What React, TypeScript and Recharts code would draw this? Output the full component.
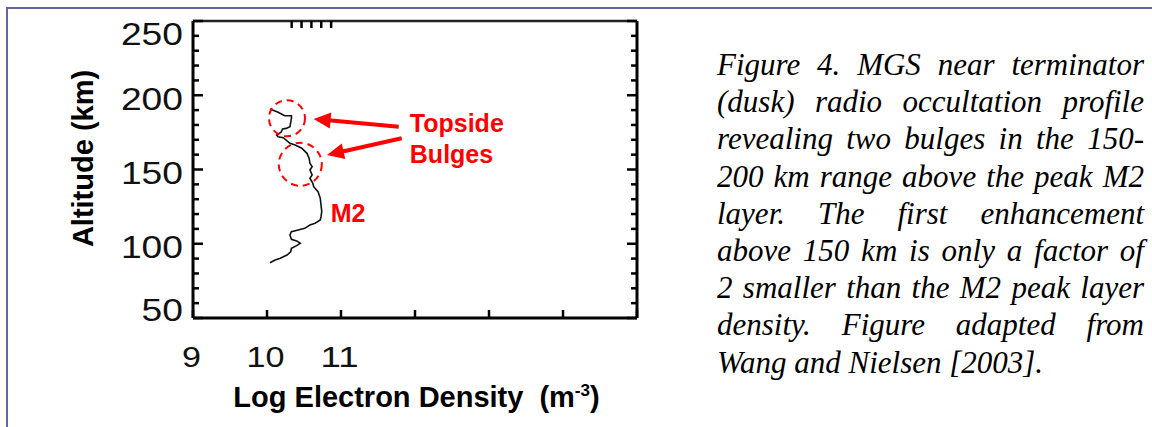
import React from 'react';
import { LineChart, Line, XAxis, YAxis, ReferenceDot, ReferenceLine } from 'recharts';

// ---- data ----
const logDensity = [
  10.04, 10.15, 10.24, 10.33, 10.33, 10.31, 10.26, 10.21, 10.19, 10.13, 10.15, 10.22,
  10.31, 10.38, 10.47, 10.54, 10.57, 10.58, 10.61, 10.58, 10.61, 10.58, 10.62, 10.63,
  10.69, 10.72, 10.73, 10.74, 10.73, 10.72, 10.65, 10.58, 10.51, 10.42, 10.33, 10.31,
  10.33, 10.40, 10.45, 10.40, 10.33, 10.32, 10.27, 10.18, 10.11, 10.04,
];
const altitudeKm = [
  190.7, 188.5, 186.2, 186.2, 184.5, 178.8, 177.7, 177.3, 175.1, 173.2, 172.1, 171.4,
  167.6, 166.5, 164.3, 160.9, 157.5, 154.2, 151.9, 149.7, 146.3, 144.1, 140.7, 138.4,
  135.1, 130.6, 126.1, 121.6, 118.2, 116.0, 113.8, 112.6, 110.4, 109.3, 108.1, 105.9,
  103.0, 101.9, 100.3, 98.7, 96.9, 94.6, 92.4, 90.2, 89.1, 87.2,
];
const xTicks = [9, 10, 11, 12, 13, 14, 15];
const xTickLabels = ['9', '10', '11'];
const yTicks = [50, 60, 70, 80, 90, 100, 110, 120, 130, 140, 150, 160, 170, 180, 190, 200, 210, 220, 230, 240, 250];
const yMajorTicks = [50, 100, 150, 200, 250];
const xDomain = [9, 15];
const yDomain = [50, 250];

// annotation anchors (data space)
const bulgeCircleX = [10.27, 10.45];
const bulgeCircleAlt = [184.5, 153.5];
const arrowTailX = [11.78, 11.82];
const arrowTailAlt = [178.8, 171.0];
const arrowTipX = [10.63, 10.81];
const arrowTipAlt = [184.0, 159.8];
const annotationTexts = ['Topside', 'Bulges', 'M2'];
const annotationX = [11.93, 11.93, 10.86];
const annotationAlt = [175.5, 154.6, 114.8];

const captionLines = [
  'Figure 4. MGS near terminator',
  '(dusk) radio occultation profile',
  'revealing two bulges in the 150-',
  '200 km range above the peak M2',
  'layer. The first enhancement',
  'above 150 km is only a factor of',
  '2 smaller than the M2 peak layer',
  'density. Figure adapted from',
  'Wang and Nielsen [2003].',
];

const profile = logDensity.map((x, i) => ({ x, alt: altitudeKm[i] }));

const SANS = '"Liberation Sans", Arial, Helvetica, sans-serif';
const RED = '#ff0000';

const LeftTick = (props: any) => {
  const { x, y, payload } = props;
  const v = payload.value;
  const major = yMajorTicks.includes(v);
  const dy = v === 250 ? 24 : v === 50 ? 3 : 14.5;
  const s = String(v);
  return (
    <g>
      <line x1={x} y1={y} x2={x + (major ? 10 : 6)} y2={y} stroke="#000" strokeWidth={2.5} />
      {major && (
        <text
          x={x - 10}
          y={y + dy}
          textAnchor="end"
          fontFamily={SANS}
          fontSize={32}
          fill="#111"
          textLength={s.length * 20.7}
          lengthAdjust="spacingAndGlyphs"
        >
          {s}
        </text>
      )}
    </g>
  );
};

const RightTick = (props: any) => {
  const { x, y, payload } = props;
  const major = yMajorTicks.includes(payload.value);
  return <line x1={x} y1={y} x2={x - (major ? 10 : 6)} y2={y} stroke="#000" strokeWidth={2.5} />;
};

const BottomTick = (props: any) => {
  const { x, y, payload } = props;
  const idx = xTicks.indexOf(payload.value);
  const label = xTickLabels[idx];
  return (
    <g>
      <line x1={x} y1={y} x2={x} y2={y - 8} stroke="#000" strokeWidth={2.5} />
      {label && (
        <text
          x={x - 1.5}
          y={y + 48.7}
          textAnchor="middle"
          fontFamily={SANS}
          fontSize={29}
          fill="#111"
          textLength={label.length * 19}
          lengthAdjust="spacingAndGlyphs"
        >
          {label}
        </text>
      )}
    </g>
  );
};

const TopTick = (props: any) => {
  const { x, y } = props;
  return <line x1={x} y1={y} x2={x} y2={y + 7} stroke="#000" strokeWidth={2.5} />;
};

const YTitle = (props: any) => {
  const vb = props.viewBox;
  const cx = vb.x + vb.width - 110;
  const cy = vb.y + vb.height / 2 - 11;
  return (
    <text
      x={cx}
      y={cy}
      transform={`rotate(-90, ${cx}, ${cy})`}
      textAnchor="middle"
      dominantBaseline="central"
      fontFamily={SANS}
      fontWeight="bold"
      fontSize={29}
      fill="#000"
    >
      Altitude (km)
    </text>
  );
};

const XTitle = (props: any) => {
  const vb = props.viewBox;
  const cx = vb.x + vb.width / 2 + 1.5;
  const by = vb.y + 88.7;
  return (
    <text x={cx} y={by} textAnchor="middle" fontFamily={SANS} fontWeight="bold" fontSize={29} fill="#000">
      <tspan>Log Electron Density</tspan>
      <tspan dx={16}>(m</tspan>
      <tspan dy={-11} fontSize={17}>-3</tspan>
      <tspan dy={11}>)</tspan>
    </text>
  );
};

const Arrow = (props: any) => {
  const { x1, y1, x2, y2 } = props;
  const dx = x2 - x1;
  const dy = y2 - y1;
  const len = Math.sqrt(dx * dx + dy * dy);
  const ux = dx / len;
  const uy = dy / len;
  const headLen = 17;
  const headHalf = 8;
  const bx = x2 - ux * headLen;
  const by = y2 - uy * headLen;
  const px = -uy;
  const py = ux;
  return (
    <g>
      <line x1={x1} y1={y1} x2={bx + ux * 2} y2={by + uy * 2} stroke={RED} strokeWidth={4} />
      <polygon
        points={`${x2},${y2} ${bx + px * headHalf},${by + py * headHalf} ${bx - px * headHalf},${by - py * headHalf}`}
        fill={RED}
      />
    </g>
  );
};

const makeTextShape = (label: string) => (p: any) => (
  <text x={p.cx} y={p.cy} textAnchor="start" fontFamily={SANS} fontWeight="bold" fontSize={25} fill={RED}>
    {label}
  </text>
);

const circleRadii = [18, 21.5];

export default function App() {
  return (
    <div
      style={{
        position: 'absolute',
        left: 0,
        top: 0,
        width: 1152,
        height: 427,
        background: '#fff',
        overflow: 'hidden',
      }}
    >
      <div
        style={{
          position: 'absolute',
          left: 6,
          top: 7,
          width: 1200,
          height: 500,
          borderTop: '2px solid #66669f',
          borderLeft: '2px solid #66669f',
        }}
      />
      <div style={{ position: 'absolute', left: 0, top: 0 }}>
        <LineChart
          width={660}
          height={427}
          data={profile}
          margin={{ top: 11, right: 13, bottom: 9, left: 0 }}
        >
          <XAxis
            xAxisId={0}
            type="number"
            dataKey="x"
            domain={xDomain}
            ticks={xTicks}
            interval={0}
            allowDataOverflow
            height={100}
            tickSize={0}
            tickMargin={0}
            tickLine={false}
            tick={<BottomTick />}
            axisLine={{ stroke: '#000', strokeWidth: 3 }}
            label={XTitle}
          />
          <XAxis
            xAxisId="top"
            orientation="top"
            type="number"
            domain={xDomain}
            ticks={xTicks.slice(1, -1)}
            interval={0}
            allowDataOverflow
            height={10}
            tickSize={0}
            tickMargin={0}
            tickLine={false}
            tick={<TopTick />}
            axisLine={{ stroke: '#222', strokeWidth: 2.5 }}
          />
          <YAxis
            yAxisId={0}
            type="number"
            domain={yDomain}
            ticks={yTicks}
            interval={0}
            allowDataOverflow
            width={193}
            tickSize={0}
            tickMargin={0}
            tickLine={false}
            tick={<LeftTick />}
            axisLine={{ stroke: '#000', strokeWidth: 3 }}
            label={YTitle}
          />
          <YAxis
            yAxisId="right"
            orientation="right"
            type="number"
            domain={yDomain}
            ticks={yTicks}
            interval={0}
            allowDataOverflow
            width={10}
            tickSize={0}
            tickMargin={0}
            tickLine={false}
            tick={<RightTick />}
            axisLine={{ stroke: '#000', strokeWidth: 3 }}
          />
          <Line
            type="linear"
            dataKey="alt"
            stroke="#111"
            strokeWidth={1.6}
            dot={false}
            activeDot={false}
            isAnimationActive={false}
          />
          {bulgeCircleX.map((cx, i) => (
            <ReferenceDot
              key={`c${i}`}
              x={cx}
              y={bulgeCircleAlt[i]}
              r={circleRadii[i]}
              fill="none"
              stroke={RED}
              strokeWidth={2}
              strokeDasharray="7 5"
              ifOverflow="visible"
            />
          ))}
          {arrowTailX.map((tx, i) => (
            <ReferenceLine
              key={`a${i}`}
              segment={[
                { x: tx, y: arrowTailAlt[i] },
                { x: arrowTipX[i], y: arrowTipAlt[i] },
              ]}
              ifOverflow="visible"
              shape={Arrow}
            />
          ))}
          {annotationTexts.map((t, i) => (
            <ReferenceDot
              key={`t${i}`}
              x={annotationX[i]}
              y={annotationAlt[i]}
              r={1}
              ifOverflow="visible"
              shape={makeTextShape(t)}
            />
          ))}
        </LineChart>
      </div>
      <div
        style={{
          position: 'absolute',
          left: 717,
          top: 46,
          width: 427,
          fontFamily: '"Liberation Serif", "Times New Roman", serif',
          fontStyle: 'italic',
          fontSize: 31,
          lineHeight: '37.2px',
          color: '#000',
        }}
      >
        {captionLines.map((line, i) => (
          <div
            key={i}
            style={{
              textAlign: 'justify',
              textAlignLast: i === captionLines.length - 1 ? 'left' : 'justify',
            }}
          >
            {line}
          </div>
        ))}
      </div>
    </div>
  );
}
